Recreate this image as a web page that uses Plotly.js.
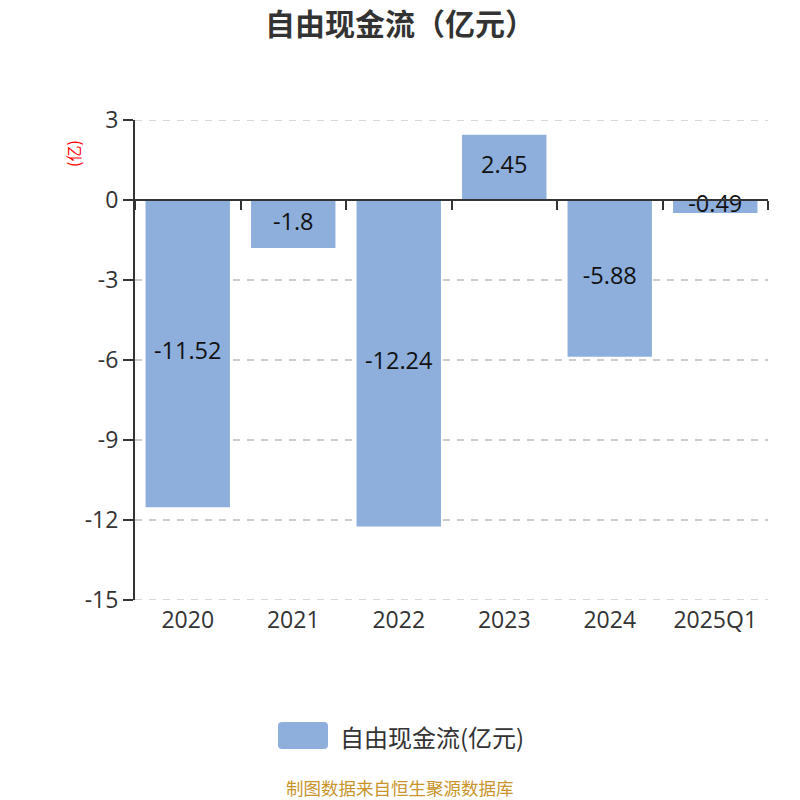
<!DOCTYPE html>
<html><head><meta charset="utf-8">
<script src="https://cdn.plot.ly/plotly-3.0.1.min.js"></script>
<style>body{margin:0;padding:0;background:#fff}#chart{width:800px;height:800px}</style>
</head><body><div id="chart"></div>
<script>
var categories = ['2020','2021','2022','2023','2024','2025Q1'];
var values = [-11.52, -1.8, -12.24, 2.45, -5.88, -0.49];
var labels = ['-11.52','-1.8','-12.24','2.45','-5.88','-0.49'];
var yTicks = [-15,-12,-9,-6,-3,0,3];
var yTickText = ['-15','-12','-9','-6','-3','0','3'];
var seriesName = '自由现金流(亿元)';
var barColor = '#8eaedb';
var font = '"Open Sans", "Noto Sans CJK SC", sans-serif';
var cjk = '"Noto Sans CJK SC", sans-serif';
var yMin = -15, yMax = 3;

var bars = {
  type:'bar', x:categories, y:values, marker:{color:barColor}, width:0.8,
  hoverinfo:'skip', showlegend:false
};
var txt = {
  type:'scatter', mode:'text', x:categories, y:values.map(function(v){return v/2;}),
  text:labels, textfont:{size:23.5, color:'#111', family:font}, textposition:'middle center',
  hoverinfo:'skip', showlegend:false, cliponaxis:false
};
var ghost = {
  type:'bar', x:categories, y:values, xaxis:'x2', marker:{color:'rgba(0,0,0,0)'},
  hoverinfo:'skip', showlegend:false
};
var zeroFrac = (0 - yMin)/(yMax - yMin);
var gridDash = '7px,7px';
function px2paperX(p){return (p-135)/633;}
function px2paperY(p){return (600-p)/480;}
var layout = {
  width:800, height:800,
  margin:{l:135, r:32, t:120, b:200},
  paper_bgcolor:'#fff', plot_bgcolor:'#fff',
  font:{family:font, color:'#333'},
  title:{text:'<b>自由现金流（亿元）</b>', x:400/800, xref:'container', xanchor:'center', y:1-24/800, yanchor:'middle',
         font:{size:30, color:'#333', family:cjk}},
  showlegend:false,
  xaxis:{type:'category', categoryarray:categories, range:[-0.5,5.5], showline:false, ticks:'',
         showgrid:false, zeroline:false, tickfont:{size:23, color:'#333'}, ticklabelstandoff:4},
  xaxis2:{type:'category', categoryarray:categories, overlaying:'x', matches:'x', anchor:'free',
          position:zeroFrac, showline:true, linecolor:'#333', linewidth:2, ticks:'outside',
          tickson:'boundaries', ticklen:9, tickwidth:2, tickcolor:'#333', showticklabels:false,
          showgrid:false, zeroline:false},
  yaxis:{range:[yMin,yMax], tickvals:yTicks, ticktext:yTickText, showline:true, linecolor:'#333', linewidth:2,
         ticks:'outside', ticklen:10, tickwidth:2, tickcolor:'#333',
         showgrid:true, gridcolor:'#cccccc', griddash:gridDash, gridwidth:1.5, zeroline:false,
         tickfont:{size:23, color:'#333'}},
  annotations:[
    {text:'(亿)', xref:'paper', yref:'paper', x:px2paperX(73), y:px2paperY(154), xanchor:'center', yanchor:'middle',
     textangle:-90, showarrow:false, font:{size:16, color:'#ff0000', family:cjk}},
    {text:seriesName, xref:'paper', yref:'paper', x:px2paperX(338), y:px2paperY(736), xanchor:'left',
     yanchor:'middle', showarrow:false, font:{size:24, color:'#333', family:cjk}},
    {text:'制图数据来自恒生聚源数据库', xref:'paper', yref:'paper', x:px2paperX(400), y:px2paperY(787),
     xanchor:'center', yanchor:'middle', showarrow:false, font:{size:17.5, color:'#c8942b', family:cjk}}
  ],
  shapes:[
    {type:'line', xref:'paper', yref:'y', x0:0, x1:1, y0:yMax, y1:yMax, layer:'below',
     line:{color:'#cccccc', width:1.5, dash:gridDash}},
    {type:'line', xref:'paper', yref:'y', x0:0, x1:1, y0:yMin, y1:yMin, layer:'below',
     line:{color:'#cccccc', width:1.5, dash:gridDash}},
    {type:'path', xref:'paper', yref:'paper', fillcolor:barColor, line:{width:0},
     path: (function(){
       var x0=px2paperX(278), x1=px2paperX(328), y0=px2paperY(749), y1=px2paperY(722);
       var rx=4/633, ry=4/480;
       return 'M'+(x0+rx)+','+y0+' L'+(x1-rx)+','+y0+' Q'+x1+','+y0+' '+x1+','+(y0+ry)+
              ' L'+x1+','+(y1-ry)+' Q'+x1+','+y1+' '+(x1-rx)+','+y1+
              ' L'+(x0+rx)+','+y1+' Q'+x0+','+y1+' '+x0+','+(y1-ry)+
              ' L'+x0+','+(y0+ry)+' Q'+x0+','+y0+' '+(x0+rx)+','+y0+' Z';
     })()}
  ]
};
Plotly.newPlot('chart',[bars, ghost, txt], layout, {displayModeBar:false, staticPlot:true});
</script></body></html>
